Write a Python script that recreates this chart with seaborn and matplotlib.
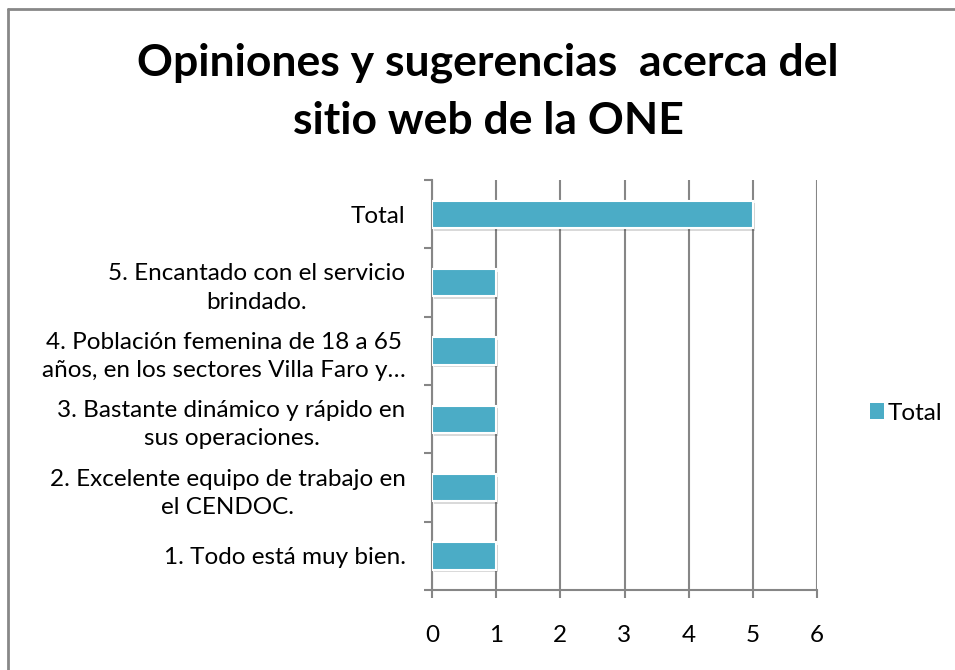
import matplotlib
matplotlib.use("Agg")
import matplotlib.pyplot as plt
import matplotlib.patheffects as pe
from matplotlib.lines import Line2D
from matplotlib.ticker import FixedLocator
import seaborn as sns
import pandas as pd

categories = [
    "Total",
    "5. Encantado con el servicio\nbrindado.",
    "4. Población femenina de 18 a 65\naños, en los sectores Villa Faro y…",
    "3. Bastante dinámico y rápido en\nsus operaciones.",
    "2. Excelente equipo de trabajo en\nel CENDOC.",
    "1. Todo está muy bien.",
]
values = [5, 1, 1, 1, 1, 1]
x_ticks = [0, 1, 2, 3, 4, 5, 6]
title = "Opiniones y sugerencias  acerca del\nsitio web de la ONE"
series_name = "Total"

sns.set_theme(style="white")
plt.rcParams["font.family"] = ["Lato", "DejaVu Sans"]
plt.rcParams["text.color"] = "black"

W, H = 955, 670
fig = plt.figure(figsize=(W / 100, H / 100), dpi=100)
ax = fig.add_axes([432 / W, 1 - 590 / H, (817 - 432) / W, (590 - 180) / H])

df = pd.DataFrame({"cat": categories, "val": values})
sns.barplot(data=df, x="val", y="cat", color="#4BACC6", width=0.4,
            saturation=1, ax=ax, label=series_name, zorder=3)

for p in ax.patches:
    p.set_edgecolor("white")
    p.set_linewidth(1.5)
    p.set_path_effects([pe.SimplePatchShadow(offset=(1.5, -2), alpha=0.15, shadow_rgbFace="#000000"),
                        pe.Normal()])

grid_c = "#868686"
ax.set_xlim(0, 6)
ax.set_ylim(len(categories) - 0.5, -0.5)
ax.xaxis.set_major_locator(FixedLocator(x_ticks))
ax.set_xticklabels([str(t) for t in x_ticks])
ax.grid(axis="x", color=grid_c, linewidth=1.5, zorder=0)
ax.grid(axis="y", visible=False)
ax.set_axisbelow(True)

for s in ["top", "right"]:
    ax.spines[s].set_visible(False)
for s in ["left", "bottom"]:
    ax.spines[s].set_color(grid_c)
    ax.spines[s].set_linewidth(1.5)

ax.tick_params(axis="x", which="major", direction="out", length=6, width=1.5,
               color=grid_c, pad=19, labelsize=17.5, labelcolor="black", bottom=True)
ax.tick_params(axis="y", which="major", length=0, pad=19, labelsize=17.5, labelcolor="black")
ax.yaxis.set_minor_locator(FixedLocator([i - 0.5 for i in range(len(categories) + 1)]))
ax.tick_params(axis="y", which="minor", direction="out", length=6, width=1.5,
               color=grid_c, left=True)
for lab in ax.get_yticklabels():
    lab.set_multialignment("center")
    lab.set_linespacing(1.42)
ax.set_xlabel("")
ax.set_ylabel("")

leg = ax.legend(loc="center left", bbox_to_anchor=(848 / W, 1 - 413 / H),
                bbox_transform=fig.transFigure, frameon=False, fontsize=17.5,
                handlelength=0.6, handleheight=0.6, handletextpad=0.15)
for h in leg.legend_handles:
    h.set_path_effects([])
    h.set_edgecolor("none")
for t in leg.get_texts():
    t.set_color("black")

fig.text(488 / W, 1 - 92 / H, title, ha="center", va="center", fontsize=32,
         fontweight="bold", linespacing=1.55, color="black")

fig.add_artist(Line2D([8 / W, 8 / W], [0, 1 - 9 / H], transform=fig.transFigure,
                      color="#888888", linewidth=2))
fig.add_artist(Line2D([8 / W, 1], [1 - 9 / H, 1 - 9 / H], transform=fig.transFigure,
                      color="#888888", linewidth=2))

fig.savefig("out.png", dpi=100, facecolor="white")
